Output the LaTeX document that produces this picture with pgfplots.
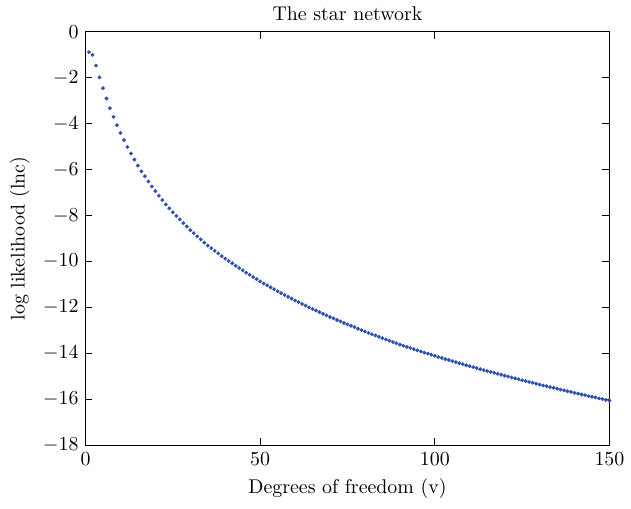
\documentclass[border=0pt]{standalone}
\usepackage{pgfplots}
\pgfplotsset{compat=1.18}
\definecolor{dotblue}{RGB}{45,80,178}
\begin{document}
\begin{tikzpicture}
\begin{axis}[
  scale only axis,
  width=263.5pt, height=208pt,
  xmin=0, xmax=150, ymin=-18, ymax=0,
  xtick={0,50,100,150},
  ytick={-18,-16,-14,-12,-10,-8,-6,-4,-2,0},
  tick align=inside,
  major tick length=3.5pt,
  title={The star network},
  title style={yshift=-4pt},
  xlabel={Degrees of freedom (v)},
  ylabel={log likelihood (lnc)},
  axis line style={black},
  every tick/.style={black},
  clip=false,
]
\addplot[only marks, mark=*, mark size=0.75pt, color=dotblue, mark options={draw=dotblue, fill=dotblue}] coordinates {
(1,-0.89) (2,-1.01) (3,-1.48) (4,-1.99) (5,-2.46) (6,-2.91) (7,-3.33) (8,-3.71) (9,-4.07) (10,-4.41)
(11,-4.72) (12,-5.02) (13,-5.30) (14,-5.57) (15,-5.83) (16,-6.08) (17,-6.29) (18,-6.52) (19,-6.74) (20,-6.94)
(21,-7.14) (22,-7.33) (23,-7.52) (24,-7.69) (25,-7.86) (26,-8.02) (27,-8.17) (28,-8.33) (29,-8.48) (30,-8.64)
(31,-8.77) (32,-8.91) (33,-9.04) (34,-9.18) (35,-9.31) (36,-9.42) (37,-9.54) (38,-9.65) (39,-9.77) (40,-9.88)
(41,-9.98) (42,-10.08) (43,-10.19) (44,-10.29) (45,-10.39) (46,-10.49) (47,-10.58) (48,-10.68) (49,-10.77) (50,-10.87)
(51,-10.96) (52,-11.04) (53,-11.13) (54,-11.21) (55,-11.30) (56,-11.38) (57,-11.46) (58,-11.54) (59,-11.62) (60,-11.70)
(61,-11.77) (62,-11.85) (63,-11.92) (64,-12.00) (65,-12.07) (66,-12.14) (67,-12.21) (68,-12.28) (69,-12.35) (70,-12.42)
(71,-12.48) (72,-12.55) (73,-12.61) (74,-12.68) (75,-12.74) (76,-12.80) (77,-12.86) (78,-12.93) (79,-12.99) (80,-13.05)
(81,-13.11) (82,-13.17) (83,-13.22) (84,-13.28) (85,-13.34) (86,-13.40) (87,-13.45) (88,-13.51) (89,-13.56) (90,-13.62)
(91,-13.67) (92,-13.72) (93,-13.77) (94,-13.82) (95,-13.87) (96,-13.92) (97,-13.97) (98,-14.01) (99,-14.06) (100,-14.11)
(101,-14.16) (102,-14.20) (103,-14.25) (104,-14.29) (105,-14.34) (106,-14.38) (107,-14.43) (108,-14.47) (109,-14.52) (110,-14.56)
(111,-14.60) (112,-14.64) (113,-14.69) (114,-14.73) (115,-14.77) (116,-14.81) (117,-14.85) (118,-14.89) (119,-14.93) (120,-14.97)
(121,-15.01) (122,-15.05) (123,-15.09) (124,-15.13) (125,-15.17) (126,-15.21) (127,-15.25) (128,-15.28) (129,-15.32) (130,-15.36)
(131,-15.40) (132,-15.43) (133,-15.47) (134,-15.50) (135,-15.54) (136,-15.58) (137,-15.61) (138,-15.65) (139,-15.68) (140,-15.72)
(141,-15.75) (142,-15.79) (143,-15.82) (144,-15.86) (145,-15.89) (146,-15.92) (147,-15.96) (148,-15.99) (149,-16.03) (150,-16.06)
};
\end{axis}
\path (-43pt,-32pt) rectangle (272.5pt,223pt);
\end{tikzpicture}
\end{document}
